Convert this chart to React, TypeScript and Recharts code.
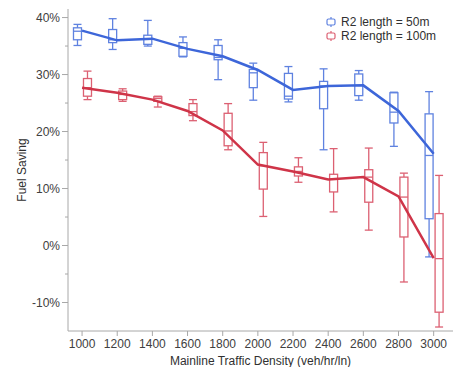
import React from "react";
import {
  ComposedChart,
  Bar,
  Line,
  XAxis,
  YAxis,
} from "recharts";

// categories
const density = [1000, 1200, 1400, 1600, 1800, 2000, 2200, 2400, 2600, 2800, 3000];

// R2 length = 50m (values in %)
const blueMax = [38.8, 39.8, 39.5, 36.6, 36.1, 32.0, 31.4, 31.0, 30.7, 26.9, 27.0];
const blueQ3 = [38.2, 37.9, 36.9, 35.6, 35.1, 30.9, 30.2, 28.8, 30.1, 26.8, 23.1];
const blueMedian = [37.6, 36.1, 36.3, 34.6, 33.0, 30.3, 26.2, 28.0, 28.1, 23.4, 15.8];
const blueQ1 = [36.1, 35.6, 35.3, 33.2, 32.6, 27.7, 25.7, 24.0, 26.3, 21.5, 4.7];
const blueMin = [35.1, 34.4, 35.0, 33.1, 29.1, 25.5, 25.2, 16.8, 25.5, 17.4, -2.0];
const blueMean = [37.7, 36.0, 36.3, 34.5, 33.2, 30.8, 27.3, 28.0, 28.1, 23.6, 16.1];

// R2 length = 100m
const redMax = [30.6, 27.5, 26.2, 25.6, 24.9, 18.1, 15.4, 17.0, 17.1, 12.7, 12.3];
const redQ3 = [29.3, 27.1, 26.1, 24.9, 23.2, 16.3, 13.8, 12.5, 13.3, 12.0, 5.6];
const redMedian = [27.7, 26.5, 25.8, 23.5, 20.1, 14.0, 13.0, 11.6, 12.0, 8.5, -2.3];
const redQ1 = [26.2, 25.6, 25.3, 22.8, 17.5, 9.9, 12.2, 9.4, 7.6, 1.5, -11.7];
const redMin = [25.6, 25.3, 24.3, 21.9, 16.8, 5.1, 11.1, 5.9, 2.7, -6.4, -14.3];
const redMean = [27.7, 26.8, 25.6, 23.6, 20.2, 14.2, 13.0, 11.6, 12.0, 8.6, -2.2];

const yTicks = [-10, -5, 0, 5, 10, 15, 20, 25, 30, 35, 40];
const seriesNames = ["R2 length = 50m", "R2 length = 100m"];

const BLUE_LINE = "#3d66d9";
const BLUE_BOX = "#5f82e0";
const RED_LINE = "#cf3448";
const RED_BOX = "#dc6072";
const FONT = "'Liberation Sans', Arial, sans-serif";

const data = density.map((d, i) => ({
  density: d,
  b: { min: blueMin[i], q1: blueQ1[i], med: blueMedian[i], q3: blueQ3[i], max: blueMax[i] },
  r: { min: redMin[i], q1: redQ1[i], med: redMedian[i], q3: redQ3[i], max: redMax[i] },
  blueMean: blueMean[i],
  redMean: redMean[i],
}));

// box shape: the bar spans min..max, inner values mapped linearly inside it
const makeBox = (key: "b" | "r", color: string) => (props: any) => {
  const { x, y, width, height, payload } = props;
  const s = payload[key];
  const top = Math.min(y, y + height);
  const bot = Math.max(y, y + height);
  const px = (v: number) => top + ((s.max - v) / (s.max - s.min)) * (bot - top);
  const cx = x + width / 2;
  const yq3 = px(s.q3);
  const yq1 = px(s.q1);
  const ym = px(s.med);
  return (
    <g stroke={color} strokeWidth={1.3} fill="none">
      <line x1={cx} x2={cx} y1={top} y2={yq3} />
      <line x1={cx} x2={cx} y1={yq1} y2={bot} />
      <line x1={x} x2={x + width} y1={top} y2={top} />
      <line x1={x} x2={x + width} y1={bot} y2={bot} />
      <rect x={x} y={yq3} width={width} height={Math.max(yq1 - yq3, 1)} />
      <line x1={x} x2={x + width} y1={ym} y2={ym} />
    </g>
  );
};

const YTick = (props: any) => {
  const { x, y, payload } = props;
  const major = payload.value % 10 === 0;
  return (
    <g>
      <line x1={x - (major ? 6 : 3)} x2={x} y1={y} y2={y} stroke="#a8a8a8" />
      {major && (
        <text x={x - 8} y={y} textAnchor="end" dominantBaseline="central" fontSize={12} fill="#404040" fontFamily={FONT}>
          {payload.value}%
        </text>
      )}
    </g>
  );
};

const YTitle = (props: any) => {
  const { viewBox } = props;
  const cx = viewBox.x + 14;
  const cy = viewBox.y + viewBox.height / 2;
  return (
    <text x={cx} y={cy} transform={`rotate(-90 ${cx} ${cy})`} textAnchor="middle" dominantBaseline="central" fontSize={12} fill="#303030" fontFamily={FONT}>
      Fuel Saving
    </text>
  );
};

const XTitle = (props: any) => {
  const { viewBox } = props;
  return (
    <text x={viewBox.x + viewBox.width / 2} y={viewBox.y + 30} textAnchor="middle" dominantBaseline="central" fontSize={12} fill="#303030" fontFamily={FONT}>
      Mainline Traffic Density (veh/hr/ln)
    </text>
  );
};

const LegendBox = () => (
  <div style={{ position: "absolute", left: 325, top: 15, fontFamily: FONT, fontSize: 12, color: "#303030", lineHeight: "14px" }}>
    {seriesNames.map((name, i) => {
      const c = i === 0 ? BLUE_BOX : RED_BOX;
      return (
        <div key={name} style={{ display: "flex", alignItems: "center" }}>
          <svg width={16} height={14}>
            <line x1={6} x2={6} y1={2} y2={4} stroke={c} strokeWidth={1.2} />
            <line x1={6} x2={6} y1={10} y2={12} stroke={c} strokeWidth={1.2} />
            <rect x={2} y={4} width={8} height={6} rx={1.5} fill="none" stroke={c} strokeWidth={1.2} />
          </svg>
          <span>{name}</span>
        </div>
      );
    })}
  </div>
);

export default function App() {
  return (
    <div style={{ position: "absolute", left: 0, top: 0, width: 454, height: 367, background: "#fff" }}>
      <ComposedChart width={454} height={367} data={data} margin={{ top: 9, right: 1, bottom: 0, left: 8 }} barGap={2}>
        <XAxis
          dataKey="density"
          type="number"
          domain={[920, 3110]}
          ticks={density}
          interval={0}
          allowDataOverflow
          height={36}
          axisLine={{ stroke: "#a8a8a8" }}
          tickLine={{ stroke: "#a8a8a8" }}
          tickSize={5}
          tickMargin={3}
          tick={{ fontSize: 12, fill: "#404040", fontFamily: FONT }}
          label={<XTitle />}
        />
        <XAxis xAxisId="top" orientation="top" dataKey="density" type="number" domain={[920, 3110]} height={0} tick={false} tickLine={false} axisLine={{ stroke: "#d6d6d6" }} />
        <YAxis
          type="number"
          domain={[-15, 41.5]}
          ticks={yTicks}
          interval={0}
          allowDataOverflow
          width={60}
          axisLine={{ stroke: "#a8a8a8" }}
          tickLine={false}
          tickSize={0}
          tickMargin={0}
          tick={<YTick />}
          label={<YTitle />}
        />
        <YAxis yAxisId="right" orientation="right" domain={[-15, 41.5]} width={0} tick={false} tickLine={false} axisLine={{ stroke: "#d6d6d6" }} />
        <Bar dataKey={(d: any) => [d.b.min, d.b.max]} name={seriesNames[0]} barSize={8} shape={makeBox("b", BLUE_BOX)} isAnimationActive={false} />
        <Bar dataKey={(d: any) => [d.r.min, d.r.max]} name={seriesNames[1]} barSize={8} shape={makeBox("r", RED_BOX)} isAnimationActive={false} />
        <Line dataKey="blueMean" type="linear" stroke={BLUE_LINE} strokeWidth={2.5} dot={false} isAnimationActive={false} />
        <Line dataKey="redMean" type="linear" stroke={RED_LINE} strokeWidth={2.5} dot={false} isAnimationActive={false} />
      </ComposedChart>
      <LegendBox />
    </div>
  );
}
